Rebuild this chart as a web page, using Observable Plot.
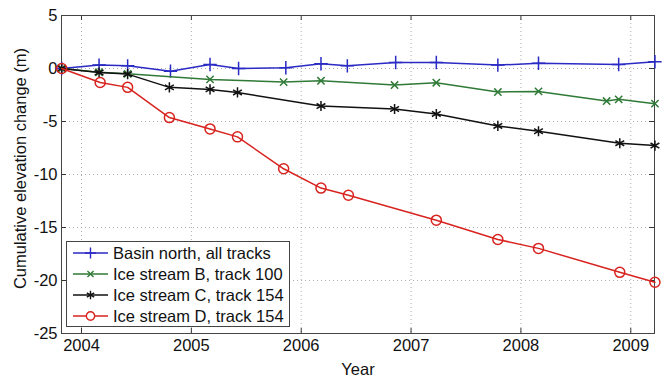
<!DOCTYPE html>
<html>
<head>
<meta charset="utf-8">
<script src="https://cdn.jsdelivr.net/npm/d3@7"></script>
<script src="https://cdn.jsdelivr.net/npm/@observablehq/plot@0.6"></script>
<style>
  html, body { margin: 0; padding: 0; background: #fff; }
  #chart { position: relative; width: 662px; height: 378px; }
  #legend { position: absolute; left: 66px; top: 241px; }
</style>
</head>
<body>
<div id="chart"></div>
<script>
// Cumulative elevation change (m) per survey epoch (decimal year)
const basinYears = [2003.82, 2004.16, 2004.42, 2004.81, 2005.17, 2005.43, 2005.86, 2006.18, 2006.42, 2006.86, 2007.23, 2007.79, 2008.16, 2008.89, 2009.22];
const basinNorth = [0, 0.32, 0.25, -0.25, 0.38, 0, 0.07, 0.44, 0.25, 0.57, 0.57, 0.32, 0.5, 0.38, 0.63];

const streamBYears = [2003.82, 2004.16, 2004.42, 2005.17, 2005.84, 2006.18, 2006.85, 2007.23, 2007.79, 2008.16, 2008.78, 2008.89, 2009.22];
const streamB = [0, -0.35, -0.5, -1.03, -1.28, -1.16, -1.56, -1.34, -2.22, -2.16, -3.07, -2.91, -3.32];

const streamCYears = [2003.82, 2004.16, 2004.42, 2004.80, 2005.17, 2005.42, 2006.18, 2006.85, 2007.23, 2007.79, 2008.16, 2008.90, 2009.22];
const streamC = [0, -0.38, -0.53, -1.78, -1.97, -2.26, -3.54, -3.82, -4.29, -5.42, -5.92, -7.05, -7.27];

const streamDYears = [2003.82, 2004.17, 2004.42, 2004.80, 2005.17, 2005.42, 2005.84, 2006.18, 2006.43, 2007.23, 2007.79, 2008.16, 2008.90, 2009.22];
const streamD = [0, -1.32, -1.78, -4.63, -5.70, -6.45, -9.46, -11.28, -11.96, -14.31, -16.13, -16.97, -19.23, -20.17];

const seriesNames = ["Basin north, all tracks", "Ice stream B, track 100", "Ice stream C, track 154", "Ice stream D, track 154"];
const xTicks = [2004, 2005, 2006, 2007, 2008, 2009];
const yTicks = [-25, -20, -15, -10, -5, 0, 5];

const series = [
  {name: seriesNames[0], years: basinYears, values: basinNorth, color: "#2a2ac4", symbol: "plus", r: 4.4},
  {name: seriesNames[1], years: streamBYears, values: streamB, color: "#2f7a36", symbol: "times", r: 3.4},
  {name: seriesNames[2], years: streamCYears, values: streamC, color: "#111111", symbol: "asterisk", r: 4.8},
  {name: seriesNames[3], years: streamDYears, values: streamD, color: "#d8231f", symbol: "circle", r: 5}
];

const W = 662, H = 378;
const M = {top: 15, right: 8, bottom: 45, left: 61};
const innerW = W - M.left - M.right;
const innerH = H - M.top - M.bottom;
const font = "'Liberation Sans', Arial, Helvetica, sans-serif";

const seriesMarks = series.flatMap(s => {
  const rows = s.years.map((year, i) => ({year, value: s.values[i]}));
  return [
    Plot.line(rows, {x: "year", y: "value", stroke: s.color, strokeWidth: 1.5}),
    Plot.dot(rows, {x: "year", y: "value", symbol: s.symbol, r: s.r, stroke: s.color, strokeWidth: 1.5, fill: s.symbol === "circle" ? "none" : undefined})
  ];
});

const chart = Plot.plot({
  width: W,
  height: H,
  marginTop: M.top,
  marginRight: M.right,
  marginBottom: M.bottom,
  marginLeft: M.left,
  style: {fontFamily: font, fontSize: "16px", color: "#111", background: "#fff"},
  x: {domain: [2003.818, 2009.216], label: null},
  y: {domain: [-25, 5], label: null},
  marks: [
    Plot.gridX(xTicks, {stroke: "#8a8a8a", strokeOpacity: 0.7, strokeDasharray: "1,3"}),
    Plot.gridY(yTicks, {stroke: "#8a8a8a", strokeOpacity: 0.7, strokeDasharray: "1,3"}),
    // inward ticks on all four sides
    Plot.tickX(xTicks, {x: d => d, insetTop: innerH - 5, stroke: "#333"}),
    Plot.tickX(xTicks, {x: d => d, insetBottom: innerH - 5, stroke: "#333"}),
    Plot.tickY(yTicks, {y: d => d, insetRight: innerW - 5, stroke: "#333"}),
    Plot.tickY(yTicks, {y: d => d, insetLeft: innerW - 5, stroke: "#333"}),
    Plot.axisX(xTicks, {tickSize: 0, tickPadding: 6, tickFormat: d => String(d), label: null, fontSize: 16.5}),
    Plot.axisY(yTicks, {tickSize: 0, tickPadding: 4, tickFormat: d => String(d), label: null, fontSize: 16.5}),
    Plot.frame({stroke: "#444"}),
    ...seriesMarks,
    Plot.text(["Year"], {frameAnchor: "bottom", dy: 41, fontSize: 16.5, fill: "#111"}),
    Plot.text(["Cumulative elevation change (m)"], {frameAnchor: "left", textAnchor: "middle", dx: -41, dy: -6, rotate: -90, fontSize: 16.5, fill: "#111"})
  ]
});

const container = document.getElementById("chart");
container.appendChild(chart);

// legend box in the lower-left corner of the plot
const lw = 224, lh = 86, rowGap = 21;
const legend = d3.select(container).append("svg")
  .attr("id", "legend")
  .attr("width", lw)
  .attr("height", lh)
  .style("font-family", font)
  .style("font-size", "16.5px");
legend.append("rect")
  .attr("x", 0.5).attr("y", 0.5)
  .attr("width", lw - 1).attr("height", lh - 1)
  .attr("fill", "#fff").attr("stroke", "#444");
const symbolTypes = {plus: d3.symbolPlus, times: d3.symbolTimes, asterisk: d3.symbolAsterisk, circle: d3.symbolCircle};
series.forEach((s, i) => {
  const g = legend.append("g").attr("transform", `translate(0,${12 + i * rowGap})`);
  g.append("line").attr("x1", 7).attr("x2", 42).attr("stroke", s.color).attr("stroke-width", 1.5);
  g.append("path")
    .attr("transform", "translate(24.5,0)")
    .attr("d", d3.symbol(symbolTypes[s.symbol], Math.PI * s.r * s.r * 0.7)())
    .attr("fill", s.symbol === "circle" ? "#fff" : "none")
    .attr("stroke", s.color).attr("stroke-width", 1.4);
  g.append("text").attr("x", 47).attr("dy", "0.35em").attr("fill", "#111").text(s.name);
});
</script>
</body>
</html>
